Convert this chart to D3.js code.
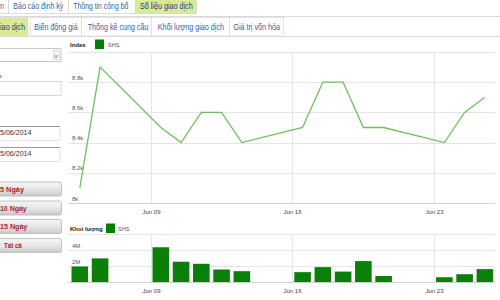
<!DOCTYPE html>
<html><head><meta charset="utf-8">
<script src="https://cdn.jsdelivr.net/npm/d3@7"></script>
<style>
html,body{margin:0;padding:0;background:#fff;overflow:hidden}
svg{display:block;font-family:"Liberation Sans",Arial,sans-serif}
</style></head>
<body>
<svg id="c" width="500" height="300"></svg>
<script>
// ---- data ----
const dates = ["2014-06-05","2014-06-06","2014-06-09","2014-06-10","2014-06-11","2014-06-12","2014-06-13",
  "2014-06-16","2014-06-17","2014-06-18","2014-06-19","2014-06-20","2014-06-23","2014-06-24","2014-06-25"];
const indexValues = [8100,8900,8500,8400,8600,8600,8400,8500,8800,8800,8500,8500,8400,8600,8700];
const volumeValues = [1950000,2970000,4370000,2550000,2290000,1570000,1360000,1240000,1870000,1310000,2630000,760000,600000,980000,1620000];
const indexTicks = [8000,8200,8400,8600,8800,9000];
const indexTickLabels = ["8k","8.2k","8.4k","8.6k","8.8k",""];
const volTicks = [0,2000000,4000000,6000000];
const volTickLabels = ["0","2M","4M",""];
const xTickDates = ["2014-06-09","2014-06-16","2014-06-23"];
const xTickLabels = ["Jun 09","Jun 16","Jun 23"];
const topTabs = ["n","Báo cáo định kỳ","Thông tin công bố","Số liệu giao dịch"];
const subTabs = ["iao dịch","Biến động giá","Thống kê cung cầu","Khối lượng giao dịch","Giá trị vốn hóa"];
const dateInputs = ["5/06/2014","5/06/2014"];
const buttons = ["5 Ngày","10 Ngày","15 Ngày","Tất cả"];
const seriesName = "SHS";

const svg = d3.select("#c");
const parse = s => { const [y,m,d] = s.split("-").map(Number); return new Date(y, m-1, d); };
const noon = s => { const d = parse(s); d.setHours(12); return d; };
const fit = (sel, w) => sel.attr("textLength", w).attr("lengthAdjust","spacingAndGlyphs");

// ---- tabs ----
const topBoxes = [[-5,8.5],[8.5,68.5],[68.5,135.5],[135.5,196.5]];
const topText = [[0,4],[13.3,50],[73.3,55],[140,52.7]];
topBoxes.forEach((b,i)=>{
  svg.append("rect").attr("x",b[0]).attr("y",-1).attr("width",b[1]-b[0]).attr("height",14.5)
    .attr("fill", i===3 ? "#d8ea95" : "#fff").attr("stroke","#d6d6d6").attr("stroke-width",0.8);
  fit(svg.append("text").attr("x", topText[i][0]).attr("y",9.3).attr("font-size",8.4)
    .attr("fill", i===3 ? "#1f3d6e" : "#3b5d9c").text(topTabs[i]), topText[i][1]);
});
svg.append("line").attr("x1",0).attr("x2",500).attr("y1",16.5).attr("y2",16.5).attr("stroke","#d9d9d9");
svg.append("line").attr("x1",0).attr("x2",500).attr("y1",36.5).attr("y2",36.5).attr("stroke","#d9d9d9");
const subBoxes = [[-5,28],[30.5,81.5],[81.5,151.5],[151.5,229.5],[229.5,283.5]];
const subText = [[0,25],[34.3,43.3],[87.7,60.7],[157.7,66.3],[233.3,46.7]];
subBoxes.forEach((b,i)=>{
  svg.append("rect").attr("x",b[0]).attr("y",17.5).attr("width",b[1]-b[0]).attr("height",18.5)
    .attr("fill", i===0 ? "#d8ea95" : "#fff").attr("stroke","#dcdcdc").attr("stroke-width",0.8);
  fit(svg.append("text").attr("x", subText[i][0]).attr("y",29.8).attr("font-size",8.4)
    .attr("fill", i===0 ? "#1f3d6e" : "#3b5d9c").text(subTabs[i]), subText[i][1]);
});

// ---- sidebar ----
svg.append("rect").attr("x",-2).attr("y",48.5).attr("width",63).attr("height",13).attr("fill","#fff").attr("stroke","#c8c8c8");
svg.append("rect").attr("x",53.5).attr("y",50.5).attr("width",6).attr("height",9).attr("fill","#f3f3f3").attr("stroke","#cfcfcf").attr("stroke-width",0.6);
svg.append("text").attr("x",54.6).attr("y",57.6).attr("font-size",6).attr("fill","#555").text("v");
svg.append("text").attr("x",-1).attr("y",77.5).attr("font-size",6).attr("fill","#444").text("x");
svg.append("rect").attr("x",-2).attr("y",81.5).attr("width",63).attr("height",14).attr("fill","#fff").attr("stroke","#d6d6d6");
dateInputs.forEach((t,i)=>{
  const y0 = i===0 ? 126 : 147;
  svg.append("rect").attr("x",-2).attr("y",y0+0.5).attr("width",62).attr("height",14).attr("fill","#fff").attr("stroke","#e3e3e3");
  svg.append("line").attr("x1",-2).attr("x2",60).attr("y1",y0+0.5).attr("y2",y0+0.5).attr("stroke","#9a9a9a");
  fit(svg.append("text").attr("x",0).attr("y",y0+8.8).attr("font-size",8).attr("fill","#333").text(t), 31.5);
});
const grad = svg.append("defs").append("linearGradient").attr("id","bg").attr("x1",0).attr("y1",0).attr("x2",0).attr("y2",1);
grad.append("stop").attr("offset","0%").attr("stop-color","#f7f7f7");
grad.append("stop").attr("offset","55%").attr("stop-color","#e4e4e4");
grad.append("stop").attr("offset","100%").attr("stop-color","#c9c9c9");
const btnY = [182,201,219.5,238.5];
const btnText = [[0,24],[0,26.7],[0,27.3],[4,17.7]];
buttons.forEach((t,i)=>{
  svg.append("rect").attr("x",-4).attr("y",btnY[i]).attr("width",65.5).attr("height",14).attr("rx",2)
    .attr("fill","url(#bg)").attr("stroke","#b5b5b5").attr("stroke-width",0.8);
  fit(svg.append("text").attr("x", btnText[i][0]).attr("y",btnY[i]+9.6).attr("font-size",7.8)
    .attr("font-weight","bold").attr("fill","#b0232a").text(t), btnText[i][1]);
});

// ---- scales ----
const x = d3.scaleTime().domain([new Date(2014,5,4,22), new Date(2014,5,26,0)]).range([68,495]);
const yL = d3.scaleLinear().domain([8000,9000]).range([203,52]);
const yV = d3.scaleLinear().domain([0,6000000]).range([282,234.3]);
const plotL = 68, plotR = 495;
const grid = "#e5e5e5";

// line chart grid
indexTicks.forEach((v,i)=>{
  svg.append("line").attr("x1",plotL).attr("x2",plotR).attr("y1",Math.round(yL(v))+0.5).attr("y2",Math.round(yL(v))+0.5)
    .attr("stroke", i===0 ? "#d2d2d2" : grid);
  if (indexTickLabels[i]) svg.append("text").attr("x",72).attr("y",yL(v)-2.5).attr("font-size",6).attr("fill","#555").text(indexTickLabels[i]);
});
xTickDates.forEach((d,i)=>{
  const px = Math.round(x(parse(d)))+0.5;
  svg.append("line").attr("x1",px).attr("x2",px).attr("y1",yL(9000)).attr("y2",yL(8000)).attr("stroke",grid);
  svg.append("text").attr("x",px).attr("y",214).attr("text-anchor","middle").attr("font-size",6).attr("fill","#444").text(xTickLabels[i]);
  svg.append("line").attr("x1",px).attr("x2",px).attr("y1",yV(6000000)).attr("y2",yV(0)).attr("stroke",grid);
  svg.append("text").attr("x",px).attr("y",292.5).attr("text-anchor","middle").attr("font-size",6).attr("fill","#444").text(xTickLabels[i]);
});
// legend
svg.append("text").attr("x",70).attr("y",46.5).attr("font-size",6).attr("font-weight","bold").attr("fill","#222").text("Index");
svg.append("rect").attr("x",95).attr("y",39.5).attr("width",9).attr("height",9.5).attr("fill","#008000");
svg.append("text").attr("x",108).attr("y",46.5).attr("font-size",5.5).attr("fill","#555").text(seriesName);
// line
const pts = dates.map((d,i)=>[x(noon(d)), yL(indexValues[i])]);
svg.append("path").attr("d", d3.line()(pts)).attr("fill","none").attr("stroke","#70c060").attr("stroke-width",1.3);

// volume chart
volTicks.forEach((v,i)=>{
  svg.append("line").attr("x1",plotL).attr("x2",plotR).attr("y1",Math.round(yV(v))+0.5).attr("y2",Math.round(yV(v))+0.5)
    .attr("stroke", i===0 ? "#cfcfcf" : grid);
  if (volTickLabels[i]) svg.append("text").attr("x",72).attr("y",yV(v)-2.5).attr("font-size",6).attr("fill","#555").text(volTickLabels[i]);
});
svg.append("text").attr("x",70).attr("y",230.5).attr("font-size",6).attr("font-weight","bold").attr("fill","#222").text("Khối lượng");
svg.append("rect").attr("x",106).attr("y",223.5).attr("width",9).attr("height",9.5).attr("fill","#008000");
svg.append("text").attr("x",118).attr("y",230.5).attr("font-size",5.5).attr("fill","#555").text(seriesName);
const halfW = 0.41*24*3600*1000;
svg.selectAll("rect.bar").data(dates).enter().append("rect").attr("class","bar")
  .attr("x", d => x(new Date(noon(d).getTime()-halfW)))
  .attr("width", d => x(new Date(noon(d).getTime()+halfW)) - x(new Date(noon(d).getTime()-halfW)))
  .attr("y", (d,i)=>yV(volumeValues[i]))
  .attr("height", (d,i)=>yV(0)-yV(volumeValues[i]))
  .attr("fill","#0a800a");
</script>
</body></html>
